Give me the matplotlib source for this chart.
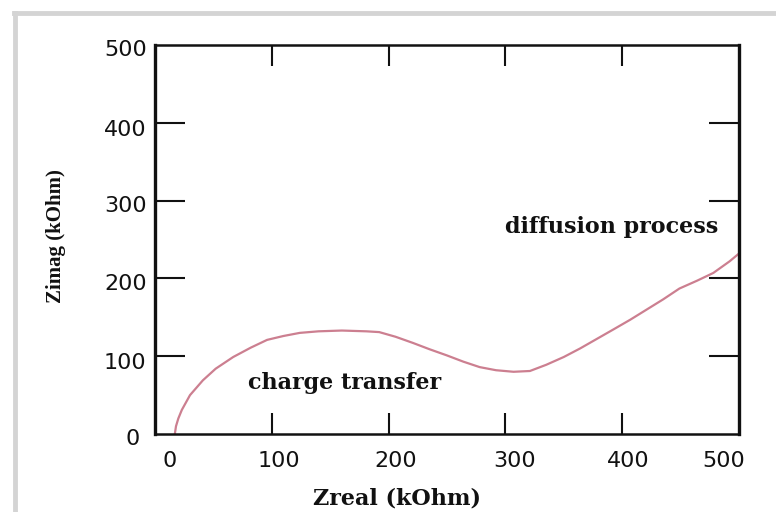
import matplotlib
matplotlib.use("Agg")
import matplotlib.pyplot as plt
import matplotlib.transforms as mtransforms
from matplotlib.lines import Line2D

# Nyquist plot: real vs imaginary impedance
zreal = [17, 18, 20, 23, 30, 41, 52, 67, 82, 96, 110, 124, 140, 160, 181, 192,
         206, 221, 235, 250, 264, 278, 292, 307, 321, 335, 350, 364, 378, 392,
         407, 421, 435, 449, 464, 478, 492, 500]
zimag = [0, 10, 20, 31, 50, 69, 84, 99, 111, 121, 126, 130, 132, 133, 132, 131,
         125, 117, 109, 101, 93, 86, 82, 80, 81, 89, 99, 110, 122, 134,
         147, 160, 173, 187, 197, 207, 222, 232]

tick_vals = [0, 100, 200, 300, 400, 500]
tick_labels = ["0", "100", "200", "300", "400", "500"]

fig = plt.figure(figsize=(7.76, 5.12), dpi=100)
fig.patch.set_facecolor("white")
ax = fig.add_axes([0.1997, 0.1523, 0.7526, 0.7598])

ax.plot(zreal, zimag, color="#cc7f90", lw=1.6)

ax.set_xlim(0, 500)
ax.set_ylim(0, 500)
ax.set_xticks(tick_vals)
ax.set_yticks(tick_vals)
ax.set_xticklabels(tick_labels)
ax.set_yticklabels(tick_labels)

for side in ["left", "right"]:
    ax.spines[side].set_linewidth(2.4)
for side in ["top", "bottom"]:
    ax.spines[side].set_linewidth(1.8)
for s in ax.spines.values():
    s.set_color("#111111")

ax.tick_params(axis="x", direction="in", length=15, width=1.5, top=True,
               pad=12, labelsize=16, colors="#111111")
ax.tick_params(axis="y", direction="in", length=21.5, width=1.5, right=True,
               pad=6, labelsize=16, colors="#111111")

# hide the end ticks (they sit on the frame)
for t in [ax.xaxis.get_major_ticks()[0], ax.xaxis.get_major_ticks()[-1],
          ax.yaxis.get_major_ticks()[0], ax.yaxis.get_major_ticks()[-1]]:
    t.tick1line.set_visible(False)
    t.tick2line.set_visible(False)

# nudge tick labels a little
x_shift = [15, 7, 7, 9, 6, -15]
for lbl, dx in zip(ax.get_xticklabels(), x_shift):
    lbl.set_transform(lbl.get_transform() +
                      mtransforms.ScaledTranslation(dx / 100, 0, fig.dpi_scale_trans))
y_shift = [(-7, 3), (0, 5), (0, 4), (0, 3), (0, 5), (0, 3)]
for lbl, (dx, dy) in zip(ax.get_yticklabels(), y_shift):
    lbl.set_transform(lbl.get_transform() +
                      mtransforms.ScaledTranslation(dx / 100, -dy / 100, fig.dpi_scale_trans))

serif_bold = dict(family="DejaVu Serif", fontweight="bold", color="#111111")
ax.text(162, 65, "charge transfer", ha="center", va="center", fontsize=16, **serif_bold)
ax.text(391, 266, "diffusion process", ha="center", va="center", fontsize=16, **serif_bold)

ax.text(0.415, -0.165, "Zreal (kOhm)", transform=ax.transAxes, ha="center",
        va="center", fontsize=16, **serif_bold)
ax.text(-0.17, 0.51, "Zimag (kOhm)", transform=ax.transAxes, ha="center",
        va="center", rotation=90, fontsize=15, family="Liberation Serif",
        fontweight="bold", color="#111111")

# light frame around the figure
fig.add_artist(Line2D([14 / 776, 1], [1 - 13 / 512, 1 - 13 / 512],
                      transform=fig.transFigure, color="#d4d4d4", lw=3.5))
fig.add_artist(Line2D([15 / 776, 15 / 776], [0, 1 - 13 / 512],
                      transform=fig.transFigure, color="#d4d4d4", lw=3.5))

fig.savefig("out.png", dpi=100, facecolor="white")
